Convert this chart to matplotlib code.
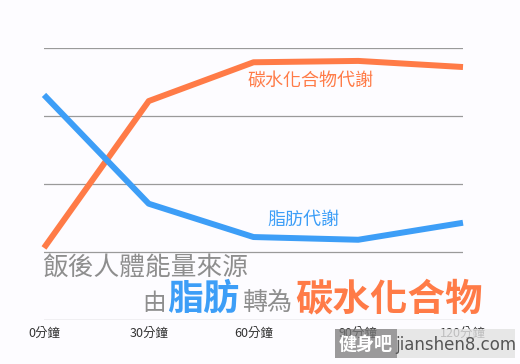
import matplotlib
matplotlib.use("Agg")
import matplotlib.pyplot as plt
from matplotlib.patches import Rectangle

# data (value units = gridline steps)
minutes = [0, 30, 60, 90, 120]
tick_labels = ["0分鐘", "30分鐘", "60分鐘", "90分鐘", "120分鐘"]
carb = [1.06, 3.22, 3.79, 3.81, 3.72]
fat = [3.31, 1.71, 1.22, 1.18, 1.43]
grid_levels = [0, 1, 2, 3, 4]

ORANGE = "#FF7B47"
BLUE = "#3D9EF7"
GRAY = "#8E8E8E"
BG = "#FDFCFF"

plt.rcParams['font.family'] = ['Noto Sans CJK TC', 'DejaVu Sans']

W, H = 520, 364
fig = plt.figure(figsize=(W / 100, H / 100), dpi=100, facecolor=BG)


def px(x, y):
    return x / W, 1 - y / H


ax = fig.add_axes([44 / W, (H - 320) / H, 419 / W, 272 / H])
ax.set_facecolor(BG)
ax.set_xlim(0, 120)
ax.set_ylim(0, 4)
for s in ax.spines.values():
    s.set_visible(False)
ax.set_yticks([])
ax.set_xticks([])
for g in grid_levels:
    ax.axhline(g, color="#9a9a9a", lw=0.9, zorder=1)

ax.plot(minutes, carb, color=ORANGE, lw=4.3, solid_capstyle="butt", clip_on=False, zorder=3)
ax.plot(minutes, fat, color=BLUE, lw=4.3, solid_capstyle="butt", clip_on=False, zorder=3)

# x tick labels
for m, lab in zip(minutes, tick_labels):
    ax.text(m, -0.2, lab, ha="center", va="center", fontsize=9, color="#333333")

# series labels
fig.text(*px(248, 82), "碳水化合物代謝", color=ORANGE, fontsize=13, va="center", ha="left")
fig.text(*px(267, 220), "脂肪代謝", color=BLUE, fontsize=13, va="center", ha="left")

# title block
fig.text(*px(43, 268), "飯後人體能量來源", color=GRAY, fontsize=18.5, fontweight="medium",
         va="center", ha="left")
fig.text(*px(142, 303), "由", color=GRAY, fontsize=17, fontweight="medium", va="center", ha="left")
fig.text(*px(167, 299), "脂肪", color=BLUE, fontsize=26, fontweight="bold", va="center", ha="left")
fig.text(*px(242, 303), "轉為", color=GRAY, fontsize=18, fontweight="medium", va="center", ha="left")
fig.text(*px(295, 299), "碳水化合物", color=ORANGE, fontsize=27, fontweight="bold",
         va="center", ha="left")

# watermark
fig.patches.append(Rectangle(px(335, 358), 62 / W, 29 / H, transform=fig.transFigure,
                             facecolor="#7a7a7a", edgecolor="none", alpha=0.75, zorder=5))
fig.patches.append(Rectangle(px(397, 358), 118 / W, 29 / H, transform=fig.transFigure,
                             facecolor="#e2e2e2", edgecolor="none", alpha=0.8, zorder=5))
fig.text(*px(366, 344), "健身吧", color="white", fontsize=13, fontweight="bold",
         style="italic", va="center", ha="center", zorder=6)
fig.text(*px(456, 345), "jianshen8.com", color="#555555", fontsize=12,
         family="DejaVu Sans", va="center", ha="center", zorder=6)

fig.savefig("out.png", dpi=100, facecolor=BG)
